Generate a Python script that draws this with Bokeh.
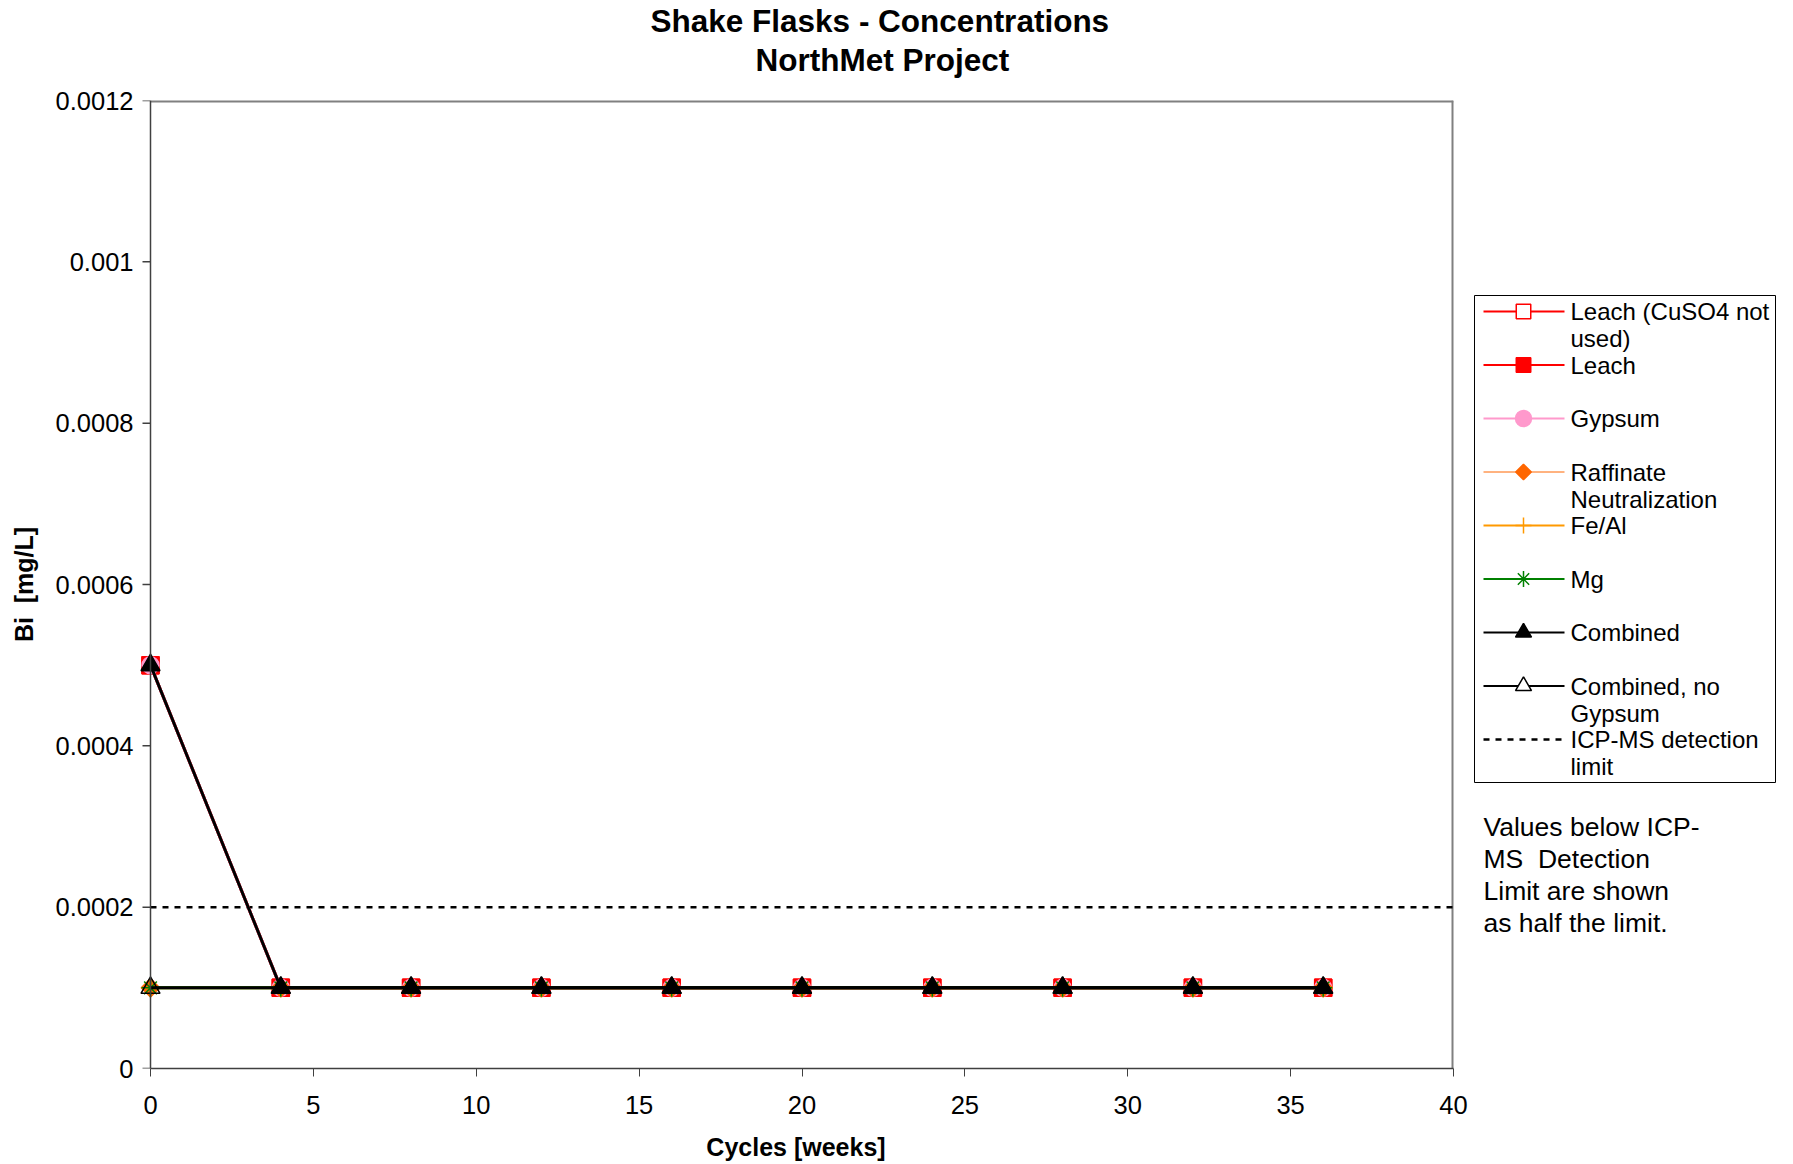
from bokeh.plotting import figure
from bokeh.models import Range1d, FixedTicker, Title
from bokeh.layouts import row
from bokeh.embed import file_html
from bokeh.resources import INLINE
from bokeh.core.properties import value
import math

# ---------------- data ----------------
cycles = [0, 4, 8, 12, 16, 20, 24, 28, 32, 36]
leach_cuso4_not_used = [0.0005, 0.0001, 0.0001, 0.0001, 0.0001, 0.0001, 0.0001, 0.0001, 0.0001, 0.0001]
leach = [0.0005, 0.0001, 0.0001, 0.0001, 0.0001, 0.0001, 0.0001, 0.0001, 0.0001, 0.0001]
gypsum = [0.0005, 0.0001, 0.0001, 0.0001, 0.0001, 0.0001, 0.0001, 0.0001, 0.0001, 0.0001]
raffinate = [0.0001, 0.0001, 0.0001, 0.0001, 0.0001, 0.0001, 0.0001, 0.0001, 0.0001, 0.0001]
fe_al = [0.0001, 0.0001, 0.0001, 0.0001, 0.0001, 0.0001, 0.0001, 0.0001, 0.0001, 0.0001]
mg = [0.0001, 0.0001, 0.0001, 0.0001, 0.0001, 0.0001, 0.0001, 0.0001, 0.0001, 0.0001]
combined = [0.0005, 0.0001, 0.0001, 0.0001, 0.0001, 0.0001, 0.0001, 0.0001, 0.0001, 0.0001]
combined_no_gypsum = [0.0001, 0.0001, 0.0001, 0.0001, 0.0001, 0.0001, 0.0001, 0.0001, 0.0001, 0.0001]
detection_x = [0, 40]
detection_limit = [0.0002, 0.0002]

x_min, x_max = 0, 40
y_min, y_max = 0, 0.0012
x_ticks = [0, 5, 10, 15, 20, 25, 30, 35, 40]
y_ticks = [0, 0.0002, 0.0004, 0.0006, 0.0008, 0.001, 0.0012]
y_tick_labels = ["0", "0.0002", "0.0004", "0.0006", "0.0008", "0.001", "0.0012"]

series_names = [
    ("Leach (CuSO4 not", "used)"),
    ("Leach", None),
    ("Gypsum", None),
    ("Raffinate", "Neutralization"),
    ("Fe/Al", None),
    ("Mg", None),
    ("Combined", None),
    ("Combined, no", "Gypsum"),
]
series_values = [leach_cuso4_not_used, leach, gypsum, raffinate, fe_al, mg, combined, combined_no_gypsum]
series_colors = ["#FF0000", "#FF0000", "#FF99CC", "#FF6600", "#FF9900", "#008000", "#000000", "#000000"]
series_markers = ["square", "square", "circle", "square", "cross", "asterisk", "triangle", "triangle"]
series_angles = [0, 0, 0, math.pi / 4, 0, 0, 0, 0]
series_sizes = [17, 17, 17, 13, 18, 18, 19, 19]
legend_sizes = [14.5, 14.5, 16, 11, 16, 16, 16, 16]
series_filled = [False, True, True, True, False, False, True, False]
series_widths = [3, 3, 3, 1.5, 3, 3, 3, 3]
legend_widths = [2, 2, 2, 1, 2, 2, 2, 2]

note_lines = ["Values below ICP-", "MS\u00a0 Detection", "Limit are shown", "as half the limit."]

FONT = "Liberation Sans"
AXIS_COLOR = "#404040"

# ---------------- main plot ----------------
# the frame extends 12 px left of x=0 so the markers at x=0 are not cut in half;
# the y axis line and its ticks are drawn at x=0 inside the frame.
px_per_unit = 1303 / 40
pad = 12 / px_per_unit
tick_len = 8 / px_per_unit
p = figure(width=1470, height=1164, x_range=Range1d(x_min - pad, x_max), y_range=Range1d(y_min, y_max),
           output_backend="svg", toolbar_location=None,
           min_border_left=138, min_border_right=17, min_border_top=100, min_border_bottom=96)
p.xgrid.visible = False
p.ygrid.visible = False
p.outline_line_color = None
p.background_fill_color = "white"
p.border_fill_color = "white"

for ax in (p.xaxis[0], p.yaxis[0]):
    ax.major_tick_out = 8
    ax.major_tick_in = 0
    ax.minor_tick_out = 0
    ax.minor_tick_in = 0
    ax.axis_line_color = AXIS_COLOR
    ax.axis_line_width = 1.5
    ax.major_tick_line_color = AXIS_COLOR
    ax.major_label_text_font = FONT
    ax.major_label_text_font_size = "25.5px"
    ax.major_label_text_color = "black"
    ax.axis_label_text_font = FONT
    ax.axis_label_text_font_size = "25px"
    ax.axis_label_text_font_style = "bold"
    ax.axis_label_text_color = "black"

p.xaxis.ticker = FixedTicker(ticks=x_ticks, minor_ticks=[])
p.yaxis.ticker = FixedTicker(ticks=y_ticks, minor_ticks=[])
p.yaxis.major_label_overrides = {t: l for t, l in zip(y_ticks, y_tick_labels)}
p.xaxis.bounds = (x_min, x_max)
p.xaxis.axis_label = "Cycles [weeks]"
p.xaxis.major_label_standoff = 19
p.xaxis.axis_label_standoff = 16

# y axis in the side panel only carries the labels
p.yaxis.axis_line_color = None
p.yaxis.major_tick_line_color = None
p.yaxis.major_tick_out = 0
p.yaxis.major_label_standoff = 5
p.yaxis.axis_label = "Bi\u00a0 [mg/L]"
p.yaxis.axis_label_standoff = 15

# plot-area border (top and right), grey as in the original
p.line([x_min, x_max], [y_max, y_max], line_color="#808080", line_width=4)
p.line([x_max, x_max], [y_min, y_max], line_color="#808080", line_width=4)

p.line(detection_x, detection_limit, line_color="black", line_width=2.5, line_dash="6 6")

for vals, col, mk, ang, sz, filled, lw in zip(series_values, series_colors, series_markers,
                                               series_angles, series_sizes, series_filled, series_widths):
    p.line(cycles, vals, line_color=col, line_width=lw)
    p.scatter(cycles, vals, marker=mk, angle=ang, size=sz, line_color=col, line_width=1.5,
              fill_color=col if filled else None)

# y axis line and ticks at x = 0
p.line([x_min, x_min], [y_min, y_max], line_color=AXIS_COLOR, line_width=1.5)
p.segment(x0=[x_min - tick_len] * len(y_ticks), y0=y_ticks, x1=[x_min] * len(y_ticks), y1=y_ticks,
          line_color=AXIS_COLOR, line_width=1.5)

title_lines = ["Shake Flasks - Concentrations", "NorthMet Project"]
p.add_layout(Title(text=title_lines[1], align="left", offset=617, standoff=45, text_font=FONT,
                   text_font_size="31.5px", text_font_style="bold", text_color="black"), "above")
p.add_layout(Title(text=title_lines[0], align="left", offset=512, standoff=-42, text_font=FONT,
                   text_font_size="31.5px", text_font_style="bold", text_color="black"), "above")

# ---------------- legend / note panel (coordinates are page pixels) ----------------
q = figure(width=323, height=1164, x_range=Range1d(1470, 1793), y_range=Range1d(1068, 100),
           output_backend="svg", toolbar_location=None, min_border=0,
           x_axis_type=None, y_axis_type=None)
q.grid.visible = False
q.outline_line_color = None
q.background_fill_color = "white"
q.border_fill_color = "white"

q.quad(left=[1474], right=[1775], top=[295], bottom=[782], fill_color="white",
       line_color="black", line_width=1)

for i, (names, col, mk, ang, sz, filled, lw) in enumerate(zip(series_names, series_colors, series_markers,
                                                               series_angles, legend_sizes,
                                                               series_filled, legend_widths)):
    yy = 311 + 53.5 * i
    q.line([1483, 1564], [yy, yy], line_color=col, line_width=lw)
    q.scatter([1523], [yy], marker=mk, angle=ang, size=sz, line_color=col, line_width=1.5,
              fill_color=col if filled else "white")
    q.text([1570], [yy], text=[names[0]], text_font=value(FONT), text_font_size=value("24px"),
           text_baseline="middle", text_color="black")
    if names[1]:
        q.text([1570], [yy + 27], text=[names[1]], text_font=value(FONT), text_font_size=value("24px"),
               text_baseline="middle", text_color="black")

yy = 311 + 53.5 * 8
q.line([1483, 1564], [yy, yy], line_color="black", line_width=2.5, line_dash="6 6")
q.text([1570], [yy], text=["ICP-MS detection"], text_font=value(FONT), text_font_size=value("24px"),
       text_baseline="middle", text_color="black")
q.text([1570], [yy + 27], text=["limit"], text_font=value(FONT), text_font_size=value("24px"),
       text_baseline="middle", text_color="black")

for i, t in enumerate(note_lines):
    q.text([1483], [826 + 32.3 * i], text=[t], text_font=value(FONT), text_font_size=value("26.5px"),
           text_baseline="middle", text_color="black")

layout = row(p, q)
open("out.html", "w").write(file_html(layout, INLINE))
